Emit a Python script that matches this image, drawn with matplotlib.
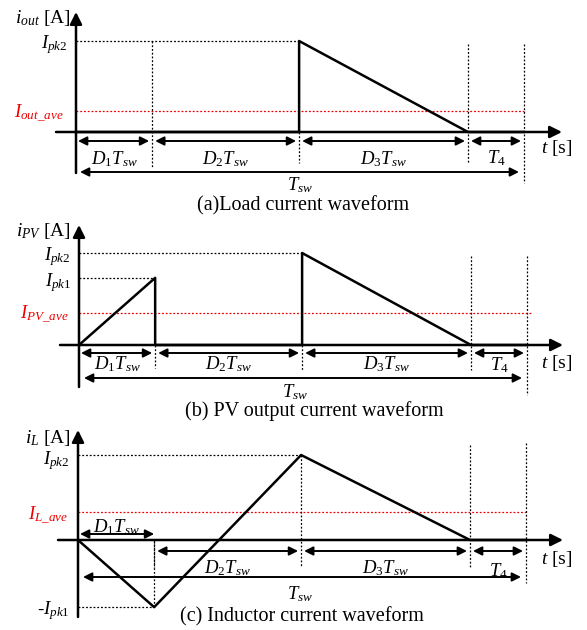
import matplotlib.pyplot as plt

plt.rcParams['font.family'] = 'Liberation Serif'
plt.rcParams['mathtext.fontset'] = 'custom'
plt.rcParams['mathtext.rm'] = 'Liberation Serif'
plt.rcParams['mathtext.it'] = 'Liberation Serif:italic'

# duty ratios of one switching period (Tsw = 1)
D1, D2, D3 = 0.17, 0.328, 0.377
T4 = 1 - D1 - D2 - D3
t1, t2, t3, tsw = D1, D1 + D2, D1 + D2 + D3, 1.0

# current levels, normalised to Ipk2
ipk2 = 1.0
iout_ave = 0.23
ipv_pk1 = 0.73
ipv_ave = 0.35
il_pk1 = 0.79
il_ave = 0.33

# waveform corners
t_out = [0, t2, t2, t3, tsw]
i_out = [0, 0, ipk2, 0, 0]
t_pv = [0, t1, t1, t2, t2, t3, tsw]
i_pv = [0, ipv_pk1, 0, 0, ipk2, 0, 0]
t_l = [0, t1, t2, t3, tsw]
i_l = [0, -il_pk1, ipk2, 0, 0]

W, H = 587, 630
TPX = 448.0  # pixels per switching period
FS = 13.5
CAP = 14.5
RED = '#ee0000'

fig = plt.figure(figsize=(W / 100, H / 100), dpi=100)


def panel(top, bottom, x0, y0, scale):
    ax = fig.add_axes([0, 1 - bottom / H, 1, (bottom - top) / H])
    ax.set_xlim(-x0 / TPX, (W - x0) / TPX)
    ax.set_ylim((y0 - bottom) / scale, (y0 - top) / scale)
    ax.axis('off')
    ax.s = scale
    return ax


def arrow(ax, xa, xb, y, style='<|-|>', lw=1.4, ms=13):
    ax.annotate('', xy=(xb, y), xytext=(xa, y),
                arrowprops=dict(arrowstyle=style, lw=lw, color='k',
                                mutation_scale=ms, shrinkA=0, shrinkB=0))


def axes_lines(ax, xl, xr, yt, yb):
    ax.annotate('', xy=(xr / TPX, 0), xytext=(xl / TPX, 0),
                arrowprops=dict(arrowstyle='-|>', lw=1.8, color='k',
                                mutation_scale=18, shrinkA=0, shrinkB=0))
    ax.annotate('', xy=(0, yt / ax.s), xytext=(0, yb / ax.s),
                arrowprops=dict(arrowstyle='-|>', lw=1.8, color='k',
                                mutation_scale=18, shrinkA=0, shrinkB=0))


def vdot(ax, x, ya, yb):
    ax.plot([x, x], [ya, yb], color='k', lw=0.9, ls=(0, (1.5, 1.5)))


def hdot(ax, y, xa, xb, color='k'):
    ax.plot([xa, xb], [y, y], color=color, lw=0.9, ls=(0, (1.5, 1.5)))


def label(ax, x, y, s, color='k', ha='center', va='center', size=FS):
    ax.text(x, y, s, color=color, ha=ha, va=va, fontsize=size)


def time_arrows(ax, y_px, gap=3):
    y = -y_px / ax.s
    g = gap / TPX
    arrow(ax, t1 + g, t2 - g, y)
    arrow(ax, t2 + g, t3 - g, y)
    arrow(ax, t3 + g, tsw - g, y)


# (a) load current
ax = panel(0, 210, 76, 132, 91)
s = ax.s
hdot(ax, ipk2, 0, t2)
hdot(ax, iout_ave, 0, tsw, RED)
vdot(ax, t1, ipk2, -36 / s)
vdot(ax, t2, 0, -31 / s)
vdot(ax, t3, 88 / s, -31 / s)
vdot(ax, tsw, 88 / s, -51 / s)
ax.plot(t_out, i_out, color='k', lw=1.8)
axes_lines(ax, -20, 486, 120, -41)
arrow(ax, 2 / TPX, t1 - 3 / TPX, -9 / s)
time_arrows(ax, 9)
arrow(ax, 4 / TPX, tsw - 5 / TPX, -40 / s)
label(ax, -5 / TPX, 114 / s, r'$i_{out}$ [A]', ha='right', size=14)
label(ax, -8 / TPX, ipk2 - 4 / s, r'$I_{pk2}$', ha='right')
label(ax, -12 / TPX, iout_ave - 2 / s, r'$I_{out\_ave}$', ha='right', color=RED)
label(ax, t1 / 2, -27 / s, r'$D_1T_{sw}$')
label(ax, t1 + D2 / 2, -27 / s, r'$D_2T_{sw}$')
label(ax, t2 + D3 / 2, -27 / s, r'$D_3T_{sw}$')
label(ax, t3 + T4 / 2, -26 / s, r'$T_4$')
label(ax, 481 / TPX, -16 / s, r'$t$ [s]', size=14)
label(ax, 224 / TPX, -53 / s, r'$T_{sw}$')
label(ax, 227 / TPX, -74 / s, '(a)Load current waveform', size=CAP)

# (b) PV output current
ax = panel(210, 420, 79, 345, 92)
s = ax.s
hdot(ax, ipk2, 0, t2)
hdot(ax, ipv_pk1, 0, t1)
hdot(ax, ipv_ave, 0, tsw + 4 / TPX, RED)
vdot(ax, t1, 0, -23 / s)
vdot(ax, t2, 0, -25 / s)
vdot(ax, t3, 89 / s, -25 / s)
vdot(ax, tsw, 89 / s, -50 / s)
ax.plot(t_pv, i_pv, color='k', lw=1.8)
axes_lines(ax, -19, 484, 120, -42)
arrow(ax, 2 / TPX, t1 - 3 / TPX, -8 / s)
time_arrows(ax, 8)
arrow(ax, 5 / TPX, tsw - 5 / TPX, -33 / s)
label(ax, -8 / TPX, 114 / s, r'$i_{PV}$ [A]', ha='right', size=14)
label(ax, -8 / TPX, ipk2 - 4 / s, r'$I_{pk2}$', ha='right')
label(ax, -8 / TPX, ipv_pk1 - 5 / s, r'$I_{pk1}$', ha='right')
label(ax, -10 / TPX, ipv_ave - 1 / s, r'$I_{PV\_ave}$', ha='right', color=RED)
label(ax, t1 / 2, -19 / s, r'$D_1T_{sw}$')
label(ax, t1 + D2 / 2, -19 / s, r'$D_2T_{sw}$')
label(ax, t2 + D3 / 2, -19 / s, r'$D_3T_{sw}$')
label(ax, t3 + T4 / 2, -20 / s, r'$T_4$')
label(ax, 478 / TPX, -18 / s, r'$t$ [s]', size=14)
label(ax, 216 / TPX, -47 / s, r'$T_{sw}$')
label(ax, 235 / TPX, -66 / s, '(b) PV output current waveform', size=CAP)

# (c) inductor current
ax = panel(420, 630, 78, 540, 85)
s = ax.s
hdot(ax, ipk2, 0, t2)
hdot(ax, -il_pk1, 0, t1)
hdot(ax, il_ave, 0, tsw, RED)
vdot(ax, t1, -il_pk1, 0)
vdot(ax, t1, 0, -27 / s)
vdot(ax, t2, ipk2, -27 / s)
vdot(ax, t3, 95 / s, -27 / s)
vdot(ax, tsw, 97 / s, -43 / s)
ax.plot(t_l, i_l, color='k', lw=1.8)
axes_lines(ax, -20, 485, 110, -77)
arrow(ax, 2 / TPX, t1, 6 / s)
time_arrows(ax, 11)
arrow(ax, 5 / TPX, tsw - 5 / TPX, -37 / s)
label(ax, -7 / TPX, 102 / s, r'$i_L$ [A]', ha='right', size=14)
label(ax, -8 / TPX, ipk2 - 6 / s, r'$I_{pk2}$', ha='right')
label(ax, -10 / TPX, il_ave - 3 / s, r'$I_{L\_ave}$', ha='right', color=RED)
label(ax, -8 / TPX, -il_pk1 - 3 / s, r'-$I_{pk1}$', ha='right')
label(ax, t1 / 2, 13 / s, r'$D_1T_{sw}$')
label(ax, t1 + D2 / 2, -28 / s, r'$D_2T_{sw}$')
label(ax, t2 + D3 / 2, -28 / s, r'$D_3T_{sw}$')
label(ax, t3 + T4 / 2, -31 / s, r'$T_4$')
label(ax, 479 / TPX, -19 / s, r'$t$ [s]', size=14)
label(ax, 222 / TPX, -54 / s, r'$T_{sw}$')
label(ax, 224 / TPX, -77 / s, '(c) Inductor current waveform', size=CAP)

fig.savefig('out.png', dpi=100)
